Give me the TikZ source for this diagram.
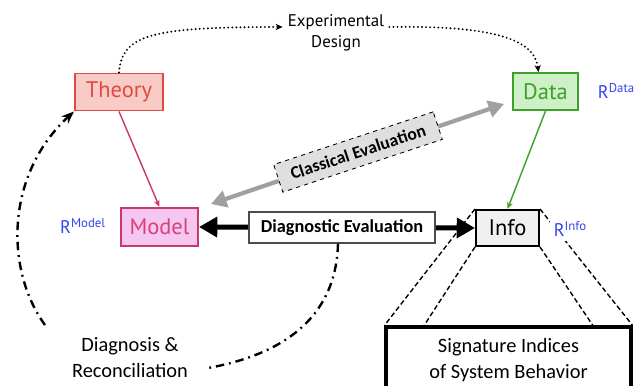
\documentclass[tikz,border=0pt]{standalone}
\usepackage{fontspec}
\setmainfont{Carlito}
\newfontfamily\comicfont{PT Sans}
\usetikzlibrary{arrows.meta,calc}

\definecolor{theoryred}{HTML}{E04A42}
\definecolor{theoryfill}{HTML}{F9CBC6}
\definecolor{datagreen}{HTML}{3E9F2C}
\definecolor{datafill}{HTML}{CDF0C6}
\definecolor{modelpink}{HTML}{C8386A}
\definecolor{modeltext}{HTML}{D8407C}
\definecolor{modelfill}{HTML}{F5C6F0}
\definecolor{rblue}{HTML}{3344EE}
\definecolor{evalgray}{HTML}{A0A0A0}

\begin{document}
\begin{tikzpicture}[x=0.025cm, y=-0.025cm, thick,
    main/.style = {draw, line width=1.4pt, inner sep=0pt, font=\comicfont\fontsize{16}{18}\selectfont},
    evalbox/.style = {inner sep=0pt, font=\bfseries\fontsize{13}{15}\selectfont},
    rlabel/.style = {text=rblue, inner sep=1pt, font=\comicfont\fontsize{13}{13}\selectfont},
    plain/.style = {align=center, font=\fontsize{14.5}{18.5}\selectfont},
    dashdot/.style = {line width=1.7pt, dash pattern=on 6pt off 3.5pt on 1.3pt off 3.5pt},
    dots/.style = {line width=1.5pt, line cap=round, dash pattern=on 0pt off 2.9pt},
    zoomline/.style = {line width=1pt, dash pattern=on 3.5pt off 2pt}]

    \useasboundingbox[fill=white] (0,0) rectangle (638,386);

    % boxes
    \node[main, draw=theoryred, fill=theoryfill, text=theoryred, minimum width=2.2cm, minimum height=0.925cm] (theory) at (119,92) {Theory};
    \node[main, draw=datagreen, fill=datafill, text=datagreen, minimum width=1.625cm, minimum height=0.925cm] (data) at (545.5,91.5) {Data};
    \node[main, draw=modelpink, fill=modelfill, text=modeltext, minimum width=1.925cm, minimum height=0.95cm] (model) at (159.5,227) {Model};
    \node[main, draw=black, fill=gray!12, minimum width=1.575cm, minimum height=0.9cm] (info) at (507.5,228) {Info};
    \node[draw, line width=2.2pt, minimum width=6.125cm, minimum height=1.65cm, plain] (sig) at (508.5,360) {Signature Indices\\of System Behavior};

    % labels
    \node[rlabel] (rmodel) at (83,226) {R\textsuperscript{Model}};
    \node[rlabel, anchor=west] (rdata) at (596,91) {R\textsuperscript{Data}};
    \node[align=center, font=\comicfont\fontsize{12}{15}\selectfont] (expdesign) at (336,33) {Experimental\\Design};
    \node[plain] (recon) at (130,358) {Diagnosis \&\\Reconciliation};

    % zoom into info
    \draw[zoomline] (info.north west) -- (sig.north west);
    \draw[zoomline] (info.south west) -- ($(sig.north west)!0.16!(sig.north east)$);
    \draw[zoomline] (info.south east) -- ($(sig.north west)!0.84!(sig.north east)$);
    \draw[zoomline] (info.north east) -- (sig.north east);
    \node[rlabel, anchor=west, fill=white, inner sep=3pt] (rinfo) at (549,229) {R\textsuperscript{Info}};
    \node[main, draw=black, fill=gray!12, minimum width=1.575cm, minimum height=0.9cm] at (info) {Info};

    % arrows
    \draw[modelpink, line width=1pt, -{Stealth[length=5pt, width=4pt]}] (theory.south) -- (model.north);
    \draw[datagreen, line width=1pt, -{Stealth[length=5pt, width=4pt]}] (data.south) -- (info.north);
    \draw[dots, -{Stealth[length=5pt, width=4.5pt]}]
        (theory.north) .. controls (122,35) and (150,27) .. ([shift={(0,-6)}]expdesign.west);
    \draw[dots, -{Stealth[length=5pt, width=4.5pt]}]
        ([shift={(0,-6)}]expdesign.east) .. controls (510,25) and (535,45) .. ([shift={(-7,0)}]data.north);

    \draw[line width=3.5pt, {Triangle[length=13pt, width=14pt]}-{Triangle[length=13pt, width=14pt]}] (model.east) -- (info.west);
    \node[evalbox, draw=gray!60!black, line width=0.8pt, fill=white, minimum width=4.65cm, minimum height=0.775cm] (diagev) at (342,227.5) {Diagnostic Evaluation};

    \draw[evalgray, line width=3pt, {Triangle[length=11pt, width=12pt]}-{Triangle[length=11pt, width=12pt]}]
        ([shift={(12,-3)}]model.north east) -- ([shift={(-8,-7)}]data.south west);
    \node[evalbox, draw, dashed, line width=0.6pt, fill=gray!25, rotate=18.3, minimum width=4.2cm, minimum height=0.725cm, font=\bfseries\fontsize{12.5}{14}\selectfont] (classical) at (358,152) {Classical Evaluation};

    % diagnosis loop
    \coordinate (loopend) at (208,368);
    \coordinate (loopstart) at (45,325);
    \draw[dashdot] ([shift={(-4,0)}]diagev.south) .. controls (336,320) and (280,355) .. (loopend);
    \draw[dashdot, -{Stealth[length=9pt, width=7pt]}] (loopstart) .. controls (5,270) and (5,175) .. (theory.south west);
\end{tikzpicture}
\end{document}
